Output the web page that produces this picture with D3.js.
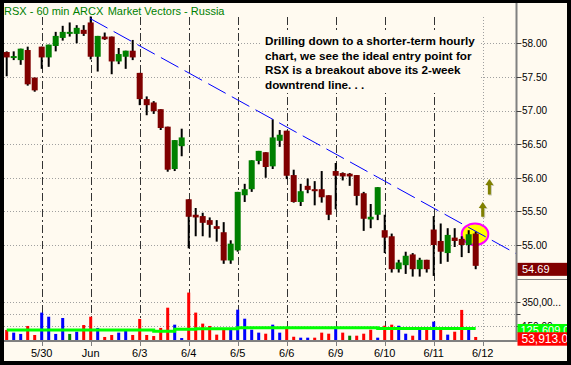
<!DOCTYPE html>
<html>
<head>
<meta charset="utf-8">
<script src="https://cdn.jsdelivr.net/npm/d3@7"></script>
<style>
  body { margin: 0; background: #000; }
  svg { display: block; font-family: "Liberation Sans", Arial, sans-serif; }
</style>
</head>
<body>
<svg id="chart" width="571" height="365"></svg>
<script>
// RSX hourly bars, last bars of 5/29 through 6/11
const opens  = [57.87,57.79,57.75,57.90,57.49,57.95,57.79,57.96,58.08,58.14,58.14,58.20,58.31,57.80,58.10,58.10,57.73,57.80,57.89,57.56,
                57.17,57.12,57.02,56.76,56.13,56.47,55.68,55.45,55.43,55.37,55.28,55.19,54.77,54.92,55.74,55.83,56.25,56.38,56.17,56.55,
                56.70,56.04,55.64,55.88,55.83,55.83,55.74,56.10,56.07,56.06,56.04,55.77,55.38,55.45,55.22,55.13,54.64,54.70,54.86,54.64,
                54.78,55.23,55.06,54.88,55.11,55.09,55.00,55.17];
const highs  = [57.88,57.88,57.92,57.95,57.49,57.95,57.98,58.17,58.26,58.31,58.27,58.27,58.40,58.11,58.16,58.10,57.93,57.89,58.05,57.56,
                57.21,57.14,57.02,56.76,56.56,56.73,55.68,55.55,55.48,55.41,55.37,55.34,55.07,55.79,55.91,56.26,56.40,56.38,56.87,56.71,
                56.70,56.12,55.91,55.99,55.95,56.10,55.74,56.22,56.08,56.07,56.04,55.79,55.61,55.86,55.45,55.17,54.78,54.90,54.88,54.81,
                54.78,55.43,55.32,55.25,55.25,55.13,55.22,55.20];
const lows   = [57.51,57.75,57.68,57.37,57.28,57.62,57.65,57.88,58.04,58.10,58.00,58.11,57.76,57.58,58.05,57.54,57.69,57.62,57.75,57.08,
                56.93,56.95,56.71,56.09,56.10,56.32,54.95,55.13,55.13,55.11,55.05,54.72,54.72,54.90,55.64,55.79,56.20,56.00,56.13,56.46,
                55.98,55.63,55.58,55.77,55.59,55.63,55.37,55.53,55.96,55.88,55.59,55.21,55.25,55.37,54.88,54.59,54.59,54.57,54.53,54.53,
                54.59,54.54,54.72,54.75,54.97,54.82,54.88,54.64];
const closes = [57.79,57.81,57.92,57.39,57.30,57.79,57.98,58.11,58.17,58.17,58.23,58.14,57.80,58.11,58.06,57.73,57.84,57.89,57.79,57.17,
                57.08,56.99,56.74,56.12,56.56,56.60,55.42,55.41,55.33,55.30,55.24,54.77,55.02,55.79,55.83,56.26,56.40,56.16,56.60,56.64,
                56.03,55.64,55.80,55.82,55.81,55.71,55.45,56.03,56.02,56.02,55.73,55.39,55.42,55.86,55.11,54.64,54.74,54.84,54.64,54.78,
                54.64,55.00,54.90,55.15,55.06,55.00,55.16,54.69];

// volume per bar and its tick direction (u = up, d = down, n = unchanged)
const volumes = [114000,91000,80000,148000,71000,262000,227000,80000,216000,80000,99000,156000,227000,131000,54000,71000,91000,108000,71000,208000,
                 71000,62000,131000,304000,159000,45000,433000,262000,168000,148000,74000,122000,116000,287000,210000,116000,91000,82000,159000,91000,
                 133000,56000,48000,48000,48000,91000,82000,140000,91000,65000,65000,82000,116000,48000,150000,159000,150000,82000,65000,122000,
                 116000,185000,131000,74000,99000,285000,122000,53913];
const volDir  = ["d","u","u","d","d","u","u","u","u","n","u","d","d","u","d","d","u","u","d","d",
                 "d","d","d","d","u","u","d","d","d","d","d","d","u","u","u","u","u","d","u","u",
                 "d","d","u","u","d","d","d","u","d","n","d","d","d","u","d","d","u","u","d","u",
                 "d","u","d","u","d","d","u","d"];
const volAvg  = [113700,113700,113700,113700,113700,113700,113700,113700,113700,113700,113700,113700,113700,113700,113700,113700,113700,113700,113700,113700,
                 113700,102600,102600,102600,119700,119700,119700,124800,124800,124800,124800,124800,124800,133300,133300,133300,133300,133300,133300,133300,
                 133300,133300,133300,133300,133300,133300,133300,133300,133300,133300,133300,133300,133300,125609,125609,125609,125609,125609,125609,125609,
                 125609,125609,125609,125609,125609,125609,125609,125609];

// session starts (bar index) and labels
const dayIdx    = [5, 12, 19, 26, 33, 40, 47, 54, 61];
const dayLabels = ["5/30", "Jun", "6/3", "6/4", "6/5", "6/6", "6/9", "6/10", "6/11"];
const nextDay   = {i: 68, label: "6/12"};

const priceTicks = [55, 55.5, 56, 56.5, 57, 57.5, 58];
const volTicks   = [150000, 250000, 350000];
const volLabeled = [150000, 350000];

// drawn annotations
const trendPts = [{i: 11.9, p: 58.37}, {i: 72.8, p: 54.87}];
const circleAt = {i: 66.9, p: 55.16};
const arrows   = [{i: 68, top: 55.64, bottom: 55.42}, {i: 68.95, top: 55.98, bottom: 55.75}];
const noteLines = ["Drilling down to a shorter-term hourly",
                   "chart, we see the ideal entry point for",
                   "RSX is a breakout above its 2-week",
                   "downtrend line. . ."];

const W = 571, H = 365;
const bg = "#fffaf0";
const plotL = 4, plotR = 516.5, paneTop = 17, volBottom = 341;

const x  = d3.scaleLinear().domain([0, 68]).range([6.7, 482.7]);
const y  = d3.scaleLinear().domain([55, 58]).range([245, 43.3]);
const yv = d3.scaleLinear().domain([0, 350000]).range([343.3, 302.3]);

const svg = d3.select("#chart");
const defs = svg.append("defs");

// frame
svg.append("rect").attr("width", W).attr("height", H).attr("fill", "#000");
svg.append("rect").attr("x", 4).attr("y", 3).attr("width", 563).attr("height", 358).attr("fill", bg);

// title
const title = svg.append("text").attr("y", 15).attr("font-size", 11).attr("fill", "#008000");
title.append("tspan").attr("x", 4).text("RSX - 60 min");
title.append("tspan").attr("x", 72.7).text("ARCX");
title.append("tspan").attr("x", 107.7).text("Market Vectors - Russia");

// horizontal dotted grid
svg.append("g").selectAll("line").data(priceTicks).join("line")
    .attr("x1", plotL).attr("x2", plotR)
    .attr("y1", d => Math.round(y(d)) + 0.5).attr("y2", d => Math.round(y(d)) + 0.5)
    .attr("stroke", "#a0a0a0").attr("stroke-dasharray", "1,2");
svg.append("g").selectAll("line").data(volTicks).join("line")
    .attr("x1", plotL).attr("x2", plotR)
    .attr("y1", d => Math.round(yv(d)) + 0.5).attr("y2", d => Math.round(yv(d)) + 0.5)
    .attr("stroke", "#a0a0a0").attr("stroke-dasharray", "1,2");

// day separators
svg.append("g").selectAll("line").data(dayIdx).join("line")
    .attr("x1", d => Math.round(x(d)) + 0.5).attr("x2", d => Math.round(x(d)) + 0.5)
    .attr("y1", paneTop).attr("y2", volBottom)
    .attr("stroke", "#333").attr("stroke-dasharray", "8,3,2,3");
svg.append("line")
    .attr("x1", Math.round(x(nextDay.i)) + 0.5).attr("x2", Math.round(x(nextDay.i)) + 0.5)
    .attr("y1", paneTop).attr("y2", volBottom)
    .attr("stroke", "#a0a0a0").attr("stroke-dasharray", "1,2");

// date ticks and labels
const allDays = dayIdx.concat([nextDay.i]);
const allLabels = dayLabels.concat([nextDay.label]);
svg.append("g").selectAll("line").data(allDays).join("line")
    .attr("x1", d => Math.round(x(d)) + 0.5).attr("x2", d => Math.round(x(d)) + 0.5)
    .attr("y1", volBottom).attr("y2", volBottom + 5)
    .attr("stroke", "#808080");
svg.append("g").selectAll("text").data(allDays).join("text")
    .attr("x", d => x(d)).attr("y", 357)
    .attr("text-anchor", "middle").attr("font-size", 11).attr("fill", "#000")
    .text((d, i) => allLabels[i]);

// note box covers the grid behind it
svg.append("rect").attr("x", 262).attr("y", 33).attr("width", 217).attr("height", 60).attr("fill", bg);
svg.append("g").selectAll("text").data(noteLines).join("text")
    .attr("x", 265).attr("y", (d, i) => 45 + i * 14.6)
    .attr("font-size", 11.7).attr("font-weight", "bold").attr("fill", "#000")
    .text(d => d);

// highlight circle
svg.append("ellipse")
    .attr("cx", x(circleAt.i)).attr("cy", y(circleAt.p))
    .attr("rx", 13.3).attr("ry", 10.8)
    .attr("fill", "#ffff00").attr("stroke", "#ff00ff").attr("stroke-width", 2);

// candles
const bars = d3.range(closes.length);
const candles = svg.append("g");
candles.selectAll("line").data(bars).join("line")
    .attr("x1", i => x(i)).attr("x2", i => x(i))
    .attr("y1", i => y(highs[i])).attr("y2", i => y(lows[i]))
    .attr("stroke", "#000").attr("stroke-width", 2);
candles.selectAll("rect").data(bars).join("rect")
    .attr("x", i => x(i) - 3).attr("width", 6)
    .attr("y", i => y(Math.max(opens[i], closes[i])))
    .attr("height", i => Math.max(2, Math.abs(y(opens[i]) - y(closes[i]))))
    .attr("fill", i => closes[i] >= opens[i] ? "#008000" : "#800000");

// downtrend line
svg.append("line")
    .attr("x1", x(trendPts[0].i)).attr("y1", y(trendPts[0].p))
    .attr("x2", x(trendPts[1].i)).attr("y2", y(trendPts[1].p))
    .attr("stroke", "#0000ff").attr("stroke-width", 1)
    .attr("stroke-dasharray", "20,7");

// arrows
function arrowPath(a, dx) {
    const cx = x(a.i) + dx, t = y(a.top) + dx, b = y(a.bottom) + dx;
    return `M${cx},${t} L${cx + 4},${t + 6} L${cx + 1.5},${t + 6} L${cx + 1.5},${b} ` +
           `L${cx - 1.5},${b} L${cx - 1.5},${t + 6} L${cx - 4},${t + 6} Z`;
}
svg.append("g").selectAll("path").data(arrows).join("path")
    .attr("d", a => arrowPath(a, 1)).attr("fill", "#c8c8b4");
svg.append("g").selectAll("path").data(arrows).join("path")
    .attr("d", a => arrowPath(a, 0)).attr("fill", "#808000");

// volume bars
const volColor = {u: "#0000ff", d: "#ff0000", n: "#008000"};
svg.append("g").selectAll("rect").data(bars).join("rect")
    .attr("x", i => x(i) - 1.5).attr("width", 3)
    .attr("y", i => yv(volumes[i]))
    .attr("height", i => volBottom - yv(volumes[i]))
    .attr("fill", i => volColor[volDir[i]]);

// volume average
svg.append("path")
    .datum(bars)
    .attr("d", d3.line().x(i => x(i)).y(i => yv(volAvg[i])).curve(d3.curveStepAfter))
    .attr("fill", "none").attr("stroke", "#00ff00").attr("stroke-width", 3);

// axes frame
svg.append("line").attr("x1", plotL).attr("x2", plotR + 1).attr("y1", volBottom).attr("y2", volBottom)
    .attr("stroke", "#808080").attr("stroke-width", 2);
svg.append("line").attr("x1", plotR).attr("x2", plotR).attr("y1", 3).attr("y2", volBottom + 1)
    .attr("stroke", "#808080").attr("stroke-width", 2);
svg.append("line").attr("x1", plotR).attr("x2", 567).attr("y1", 279.5).attr("y2", 279.5)
    .attr("stroke", "#808080").attr("stroke-width", 1);

// price axis
const fmtP = d3.format(".2f");
const pAxis = svg.append("g");
pAxis.selectAll("line").data(priceTicks).join("line")
    .attr("x1", plotR).attr("x2", plotR + 5)
    .attr("y1", d => Math.round(y(d)) + 0.5).attr("y2", d => Math.round(y(d)) + 0.5)
    .attr("stroke", "#404040");
pAxis.selectAll("text").data(priceTicks).join("text")
    .attr("x", plotR + 5.5).attr("y", d => y(d) + 3.8)
    .attr("font-size", 10).attr("fill", "#000")
    .text(d => fmtP(d));

// last-value boxes, their texts clipped like the reference
const lastI = closes.length - 1;
const aY = yv(volAvg[lastI]);
const vY = yv(volumes[lastI]);

defs.append("clipPath").attr("id", "clipAboveAvg")
    .append("rect").attr("x", plotR).attr("y", 280).attr("width", 50).attr("height", aY - 4.6 - 280);
defs.append("clipPath").attr("id", "clipAvg")
    .append("rect").attr("x", plotR + 1).attr("y", aY - 4.6).attr("width", 50).attr("height", 9);
defs.append("clipPath").attr("id", "clipVol")
    .append("rect").attr("x", plotR + 1).attr("y", vY - 4.7).attr("width", 50).attr("height", 13.4);

// volume axis
const vAxis = svg.append("g");
vAxis.selectAll("line").data(volTicks).join("line")
    .attr("x1", plotR).attr("x2", plotR + 4)
    .attr("y1", d => Math.round(yv(d)) + 0.5).attr("y2", d => Math.round(yv(d)) + 0.5)
    .attr("stroke", "#404040");
vAxis.append("g").attr("clip-path", "url(#clipAboveAvg)")
    .selectAll("text").data(volLabeled).join("text")
    .attr("x", plotR + 5.5).attr("y", d => yv(d) + 3.8)
    .attr("font-size", 10).attr("fill", "#000")
    .text(d => d3.format(",")(d).slice(0, 6) + "...");

const pY = y(closes[lastI]);
svg.append("rect").attr("x", plotR + 1).attr("y", pY - 3).attr("width", 50).attr("height", 13).attr("fill", "#800000");
svg.append("text").attr("x", plotR + 5.5).attr("y", pY + 7.2)
    .attr("font-size", 11).attr("fill", "#fff").text(fmtP(closes[lastI]));

svg.append("rect").attr("x", plotR + 1).attr("y", aY - 4.6).attr("width", 50).attr("height", 9).attr("fill", "#00ff00");
svg.append("g").attr("clip-path", "url(#clipAvg)")
    .append("text").attr("x", plotR + 4).attr("y", aY + 5)
    .attr("font-size", 11).attr("fill", "#fff").text(d3.format(",.1f")(volAvg[lastI]));

svg.append("rect").attr("x", plotR + 1).attr("y", vY - 4.7).attr("width", 50).attr("height", 13.4).attr("fill", "#ff0000");
svg.append("g").attr("clip-path", "url(#clipVol)")
    .append("text").attr("x", plotR + 5).attr("y", vY + 6.3)
    .attr("font-size", 12).attr("fill", "#fff").text(d3.format(",.2f")(volumes[lastI]));

// right and bottom border
svg.append("rect").attr("x", 567).attr("y", 0).attr("width", 4).attr("height", H).attr("fill", "#000");
svg.append("rect").attr("x", 0).attr("y", 361).attr("width", W).attr("height", 4).attr("fill", "#000");
</script>
</body>
</html>
